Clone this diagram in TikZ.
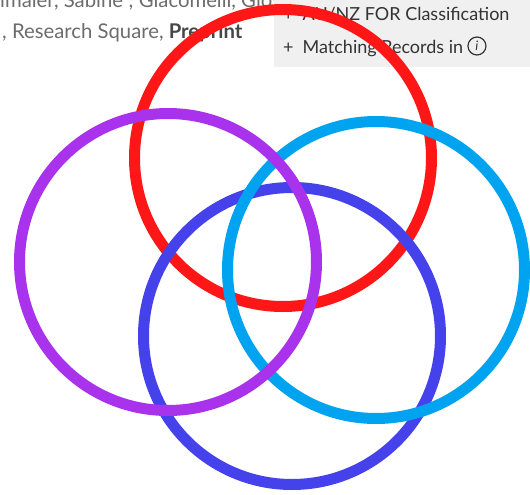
\documentclass[tikz,border=0pt]{standalone}
\usepackage{fontspec}
\setmainfont{Lato}
\usepackage{tikz}
\usetikzlibrary{positioning}

\definecolor{ringred}{HTML}{FF1616}
\definecolor{ringpurple}{HTML}{A933EC}
\definecolor{ringcyan}{HTML}{00A3EF}
\definecolor{ringindigo}{HTML}{4542EC}
\definecolor{pagegray}{HTML}{6C6C6C}
\definecolor{boxgray}{HTML}{F0F0F0}
\definecolor{boxtext}{HTML}{333333}

\tikzset{
  ring/.style={draw=#1,circle,line width=11pt,minimum size=297pt,inner sep=0pt},
  pagetext/.style={anchor=base west,inner sep=0pt,text=pagegray,font=\fontsize{20.3}{22}\selectfont},
  boxline/.style={anchor=base west,inner sep=0pt,text=boxtext,font=\fontsize{18}{20}\selectfont}
}

\begin{document}
\begin{tikzpicture}[x=1pt,y=-1pt]
			\useasboundingbox (0,0) rectangle (530,495);
			\fill[white] (0,0) rectangle (530,495);
			
			% page behind the picture
			\node[pagetext] (authors)at(0,8) {imaier, Sabine ; Giacomelli, Giovanni};
			\node[pagetext] (source)at(2,39) {, Research Square, \textbf{\textcolor{boxtext!90}{Preprint}}};
			\fill[boxgray] (274,0) rectangle (530,67);
			\node[boxline] (classif)at(283,21) {+\enspace AU/NZ FOR Classification};
			\node[boxline] (records)at(283,53) {+\enspace Matching Records in};
			\node[draw=boxtext,circle,line width=1.2pt,minimum size=18pt,inner sep=0pt,right=4pt of records.base east,yshift=7pt,font=\fontsize{13}{13}\selectfont,text=boxtext] (info) {\textit{i}};
			
			% rings
			\node[ring=ringred] (red)at(283,158) {};
			\node[ring=ringindigo] (indigo)at(292,336) {};
			\node[ring=ringcyan] (cyan)at(376,270) {};
			\node[ring=ringpurple] (purple)at(168,262) {};
		\end{tikzpicture}
\end{document}
